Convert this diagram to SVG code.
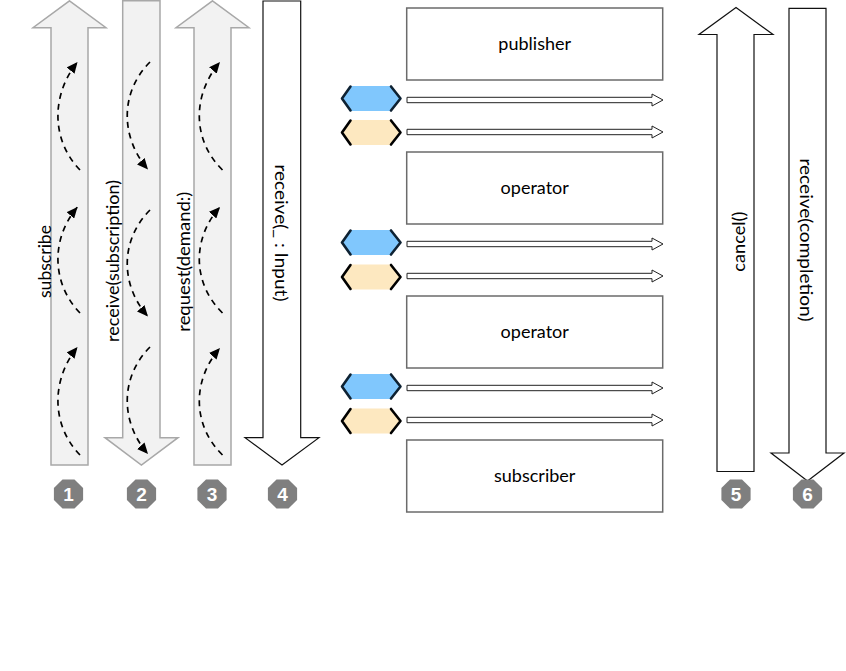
<svg xmlns="http://www.w3.org/2000/svg" width="846" height="671" viewBox="0 0 846 671">
<style>
.lbl{font-family:Lato,"Open Sans","Liberation Sans",sans-serif;font-size:18px;fill:#000;text-anchor:middle}
.gray{fill:#f2f2f2;stroke:#a8a8a8;stroke-width:1.5}
.white{fill:#fff;stroke:#111;stroke-width:1.2}
.box{fill:#fff;stroke:#6b6b6b;stroke-width:1.5}
.flow{fill:#fff;stroke:#222;stroke-width:1}
.dash{fill:none;stroke:#000;stroke-width:1.7;stroke-dasharray:6 5;marker-end:url(#ah)}
.badge{fill:#7f7f7f}
.num{font-family:"Liberation Sans",Lato,sans-serif;font-weight:bold;font-size:19px;fill:#fff;text-anchor:middle}
.hexB{fill:#80c7fd}
.hexY{fill:#fde8c0}
.chevB{fill:none;stroke:#0e2233;stroke-width:2.6;stroke-linejoin:round;stroke-linecap:round}
.chevY{fill:none;stroke:#000;stroke-width:2.6;stroke-linejoin:round;stroke-linecap:round}
</style>
<defs>
<marker id="ah" markerUnits="userSpaceOnUse" markerWidth="12" markerHeight="10" refX="11" refY="5" orient="auto">
<path d="M0,0 L11,5 L0,10 z" fill="#000"/>
</marker>
<polygon id="oct" points="-6,-14.6 6,-14.6 14.6,-6 14.6,6 6,14.6 -6,14.6 -14.6,6 -14.6,-6"/>
</defs>

<g id="arrow1">
<polygon class="gray" points="69.5,0.8 106,27.7 88,27.7 88,465 51,465 51,27.7 33,27.7"/>
<path class="dash" d="M80,170 C51,140 51,95 77.5,62"/>
<path class="dash" d="M80,313 C51,283 51,238 77.5,207"/>
<path class="dash" d="M80,455 C51,425 51,380 77.5,347"/>
<text class="lbl" transform="translate(50.5,261.5) rotate(-90)" textLength="73" lengthAdjust="spacingAndGlyphs">subscribe</text>
<use href="#oct" class="badge" x="68.5" y="494"/>
<text class="num" x="68.5" y="501">1</text>
</g>

<g id="arrow2">
<polygon class="gray" points="122.7,0.8 160,0.8 160,437.7 178,437.7 141.4,465 105,437.7 122.7,437.7"/>
<path class="dash" d="M150,62 C120,92 120,137 148,169.5"/>
<path class="dash" d="M150,210 C120,240 120,285 148,316.5"/>
<path class="dash" d="M150,347 C120,377 120,422 148,454"/>
<text class="lbl" transform="translate(118.5,261) rotate(-90)" textLength="162" lengthAdjust="spacingAndGlyphs">receive(subscription)</text>
<use href="#oct" class="badge" x="141.5" y="494"/>
<text class="num" x="141.5" y="501">2</text>
</g>

<g id="arrow3">
<polygon class="gray" points="212.5,0.8 249,27.7 231,27.7 231,465 194,465 194,27.7 176,27.7"/>
<path class="dash" d="M222.5,170 C192,140 192,95 220,62"/>
<path class="dash" d="M222.5,313 C192,283 192,238 220,207"/>
<path class="dash" d="M222.5,455 C192,425 192,380 220,348"/>
<text class="lbl" transform="translate(189.5,261.7) rotate(-90)" textLength="140" lengthAdjust="spacingAndGlyphs">request(demand:)</text>
<use href="#oct" class="badge" x="212" y="494"/>
<text class="num" x="212" y="501">3</text>
</g>

<g id="arrow4">
<polygon class="white" points="263,1 300.7,1 300.7,437.7 319,437.7 282,465 245,437.7 263,437.7"/>
<text class="lbl" transform="translate(275,233) rotate(90)" textLength="137" lengthAdjust="spacingAndGlyphs">receive(_ : Input)</text>
<use href="#oct" class="badge" x="282.5" y="494"/>
<text class="num" x="282.5" y="501">4</text>
</g>

<g id="publisher">
<rect class="box" x="406.7" y="8" width="256" height="72"/>
<text class="lbl" x="534.7" y="50">publisher</text>
</g>
<g id="operator1">
<rect class="box" x="406.7" y="152" width="256" height="72"/>
<text class="lbl" x="534.7" y="194">operator</text>
</g>
<g id="operator2">
<rect class="box" x="406.7" y="296" width="256" height="72"/>
<text class="lbl" x="534.7" y="338">operator</text>
</g>
<g id="subscriber">
<rect class="box" x="406.7" y="440" width="256" height="72"/>
<text class="lbl" x="534.7" y="482">subscriber</text>
</g>

<g id="tokens">
<g transform="translate(0,98.5)">
<polygon class="hexB" points="342,0 350.5,-12.5 391,-12.5 400.5,0 391,12.5 350.5,12.5"/>
<polyline class="chevB" points="350.5,-12 342,0 350.5,12"/>
<polyline class="chevB" points="391,-12 400.5,0 391,12"/>
</g>
<g transform="translate(0,132.5)">
<polygon class="hexY" points="342,0 350.5,-12.5 391,-12.5 400.5,0 391,12.5 350.5,12.5"/>
<polyline class="chevY" points="350.5,-12 342,0 350.5,12"/>
<polyline class="chevY" points="391,-12 400.5,0 391,12"/>
</g>
<g transform="translate(0,242.5)">
<polygon class="hexB" points="342,0 350.5,-12.5 391,-12.5 400.5,0 391,12.5 350.5,12.5"/>
<polyline class="chevB" points="350.5,-12 342,0 350.5,12"/>
<polyline class="chevB" points="391,-12 400.5,0 391,12"/>
</g>
<g transform="translate(0,277)">
<polygon class="hexY" points="342,0 350.5,-12.5 391,-12.5 400.5,0 391,12.5 350.5,12.5"/>
<polyline class="chevY" points="350.5,-12 342,0 350.5,12"/>
<polyline class="chevY" points="391,-12 400.5,0 391,12"/>
</g>
<g transform="translate(0,386.5)">
<polygon class="hexB" points="342,0 350.5,-12.5 391,-12.5 400.5,0 391,12.5 350.5,12.5"/>
<polyline class="chevB" points="350.5,-12 342,0 350.5,12"/>
<polyline class="chevB" points="391,-12 400.5,0 391,12"/>
</g>
<g transform="translate(0,421)">
<polygon class="hexY" points="342,0 350.5,-12.5 391,-12.5 400.5,0 391,12.5 350.5,12.5"/>
<polyline class="chevY" points="350.5,-12 342,0 350.5,12"/>
<polyline class="chevY" points="391,-12 400.5,0 391,12"/>
</g>
</g>

<g id="connectors">
<path class="flow" d="M407,97.3 H652 V94 L663,100 L652,106 V102.7 H407 Z"/>
<path class="flow" d="M407,129.3 H652 V126 L663,132 L652,138 V134.7 H407 Z"/>
<path class="flow" d="M407,241.3 H652 V238 L663,244 L652,250 V246.7 H407 Z"/>
<path class="flow" d="M407,273.3 H652 V270 L663,276 L652,282 V278.7 H407 Z"/>
<path class="flow" d="M407,385.3 H652 V382 L663,388 L652,394 V390.7 H407 Z"/>
<path class="flow" d="M407,417.3 H652 V414 L663,420 L652,426 V422.7 H407 Z"/>
</g>

<g id="arrow5">
<polygon class="white" points="736,7.5 773,34.5 754,34.5 754,471.5 717,471.5 717,34.5 699,34.5"/>
<text class="lbl" transform="translate(745,241.7) rotate(-90)" textLength="60" lengthAdjust="spacingAndGlyphs">cancel()</text>
<use href="#oct" class="badge" x="736" y="494"/>
<text class="num" x="736" y="501">5</text>
</g>

<g id="arrow6">
<polygon class="white" points="789,8.3 826,8.3 826,453 844,453 807.5,481 771,453 789,453"/>
<text class="lbl" transform="translate(800,240) rotate(90)" textLength="163" lengthAdjust="spacingAndGlyphs">receive(completion)</text>
<use href="#oct" class="badge" x="807.5" y="494"/>
<text class="num" x="807.5" y="501">6</text>
</g>
</svg>
